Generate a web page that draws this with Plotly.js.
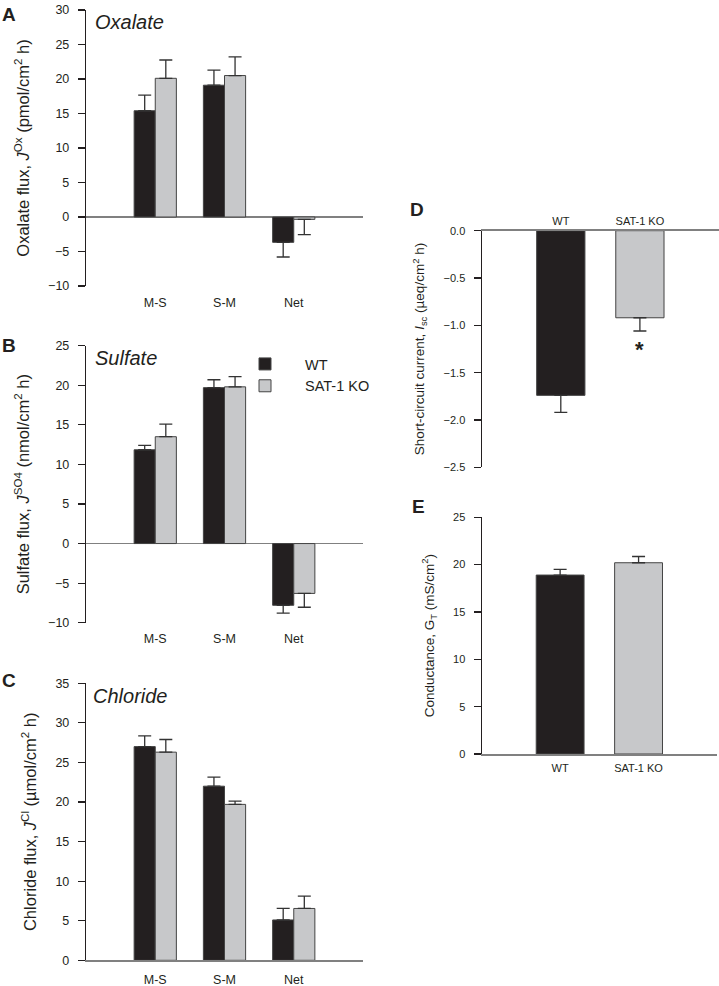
<!DOCTYPE html>
<html>
<head>
<meta charset="utf-8">
<script src="https://cdn.plot.ly/plotly-3.0.1.min.js"></script>
<style>html,body{margin:0;padding:0;background:#fff;}#chart{width:719px;height:986px;}</style>
</head>
<body>
<div id="chart"></div>
<script>
// ---- data ----
var fluxCategories = ["M-S", "S-M", "Net"];
var groupNames = ["WT", "SAT-1 KO"];

var oxWT = [15.4, 19.1, -3.67];
var oxWTErr = [2.25, 2.2, 2.13];
var oxKO = [20.1, 20.5, -0.34];
var oxKOErr = [2.65, 2.7, 2.22];

var so4WT = [11.85, 19.7, -7.8];
var so4WTErr = [0.55, 1.0, 1.0];
var so4KO = [13.5, 19.8, -6.3];
var so4KOErr = [1.6, 1.3, 1.75];

var clWT = [27.0, 22.0, 5.1];
var clWTErr = [1.35, 1.15, 1.45];
var clKO = [26.3, 19.7, 6.55];
var clKOErr = [1.6, 0.42, 1.55];

var iscValues = [-1.74, -0.92];
var iscErr = [0.18, 0.14];

var gtValues = [18.9, 20.2];
var gtErr = [0.6, 0.66];

// ---- style ----
var FONT = "Liberation Sans, Arial, Helvetica, sans-serif";
var WT_COLOR = "#231f20";
var KO_COLOR = "#c7c8ca";
var TXT = "#231f20";
var ERRC = "#333333";

function errUp(v, e) { return v.map(function (x, i) { return x >= 0 ? e[i] : 0; }); }
function errDown(v, e) { return v.map(function (x, i) { return x < 0 ? e[i] : 0; }); }

function barTrace(xs, vals, errs, color, name, xa, ya, showLeg) {
  return {
    type: "bar", x: xs, y: vals, name: name,
    xaxis: xa, yaxis: ya, showlegend: showLeg, legendgroup: name,
    marker: { color: color, line: { color: "#444", width: 1 } },
    error_y: { type: "data", symmetric: false, array: errUp(vals, errs), arrayminus: errDown(vals, errs),
      color: ERRC, thickness: 1.3, width: 6.5 },
    hoverinfo: "skip"
  };
}

var data = [
  barTrace(fluxCategories, oxWT, oxWTErr, WT_COLOR, groupNames[0], "x", "y", false),
  barTrace(fluxCategories, oxKO, oxKOErr, KO_COLOR, groupNames[1], "x", "y", false),
  barTrace(fluxCategories, so4WT, so4WTErr, WT_COLOR, groupNames[0], "x2", "y2", true),
  barTrace(fluxCategories, so4KO, so4KOErr, KO_COLOR, groupNames[1], "x2", "y2", true),
  barTrace(fluxCategories, clWT, clWTErr, WT_COLOR, groupNames[0], "x3", "y3", false),
  barTrace(fluxCategories, clKO, clKOErr, KO_COLOR, groupNames[1], "x3", "y3", false),
  barTrace(groupNames, iscValues, iscErr, [WT_COLOR, KO_COLOR], "Isc", "x4", "y4", false),
  barTrace(groupNames, gtValues, gtErr, [WT_COLOR, KO_COLOR], "GT", "x5", "y5", false)
];

var W = 719, H = 986;
function px(a, b) { return [a / W, b / W]; }
function py(top, bottom) { return [1 - bottom / H, 1 - top / H]; }

function xAxisFlux(anchor, line) {
  return {
    domain: px(86, 363), anchor: anchor, range: [-1, 3], type: "category",
    showgrid: false, zeroline: false, showline: line, linecolor: "#808080", linewidth: 1.5,
    ticks: "", tickfont: { family: FONT, size: 12.5, color: TXT }, ticklabelstandoff: 7, fixedrange: true
  };
}
function yAxis(anchor, domain, range, dtick, title, tsize, tstand, tickSize, fmt, zl) {
  return {
    anchor: anchor,
    domain: domain, range: range, dtick: dtick, tick0: 0, tickformat: fmt || "",
    showgrid: false, zeroline: zl, zerolinecolor: "#808080", zerolinewidth: 1.5,
    showline: true, linecolor: "#231f20", linewidth: 1.2,
    ticks: "outside", ticklen: 7, tickwidth: 1.2, tickcolor: "#231f20",
    tickfont: { family: FONT, size: tickSize, color: TXT }, ticklabelstandoff: 6,
    title: { text: title, font: { family: FONT, size: tsize, color: TXT }, standoff: tstand },
    fixedrange: true
  };
}

var layout = {
  width: W, height: H,
  margin: { l: 0, r: 0, t: 0, b: 0, pad: 0 },
  paper_bgcolor: "#fff", plot_bgcolor: "#fff",
  barmode: "group", bargap: 0.39, bargroupgap: 0,
  font: { family: FONT, color: TXT },
  showlegend: true,
  legend: {
    x: 225 / W, y: 1 - 348 / H, xanchor: "left", yanchor: "top",
    font: { family: FONT, size: 14.5, color: TXT }, bgcolor: "rgba(0,0,0,0)",
    traceorder: "normal", itemwidth: 70, tracegroupgap: 0
  },
  xaxis: xAxisFlux("y", false),
  yaxis: yAxis("x", py(10, 286), [-10, 30], 5, "Oxalate flux, <i>J</i><sup>Ox</sup> (pmol/cm<sup>2</sup> h)", 16.5, 14, 12.5, "", true),
  xaxis2: xAxisFlux("y2", false),
  yaxis2: yAxis("x2", py(345.7, 622.7), [-10, 25], 5, "Sulfate flux, <i>J</i><sup>SO4</sup> (nmol/cm<sup>2</sup> h)", 16.5, 14, 12.5, "", true),
  xaxis3: xAxisFlux("y3", true),
  yaxis3: yAxis("x3", py(683.3, 960.3), [0, 35], 5, "Chloride flux, <i>J</i><sup>Cl</sup> (µmol/cm<sup>2</sup> h)", 16.5, 14, 12.5, "", false),
  xaxis4: {
    domain: px(481.7, 719), anchor: "y4", range: [-1, 2], type: "category", side: "top",
    showgrid: false, zeroline: false, showline: true, linecolor: "#808080", linewidth: 1.5,
    ticks: "", tickfont: { family: FONT, size: 11, color: TXT }, ticklabelstandoff: 0, fixedrange: true
  },
  yaxis4: yAxis("x4", py(230.7, 467.3), [-2.5, 0], 0.5, "Short-circuit current, <i>I</i><sub>sc</sub> (µeq/cm<sup>2</sup> h)", 13.5, 15, 11, ".1f", false),
  xaxis5: {
    domain: px(481.7, 717), anchor: "y5", range: [-1, 2], type: "category",
    showgrid: false, zeroline: false, showline: true, linecolor: "#808080", linewidth: 1.5,
    ticks: "", tickfont: { family: FONT, size: 11, color: TXT }, ticklabelstandoff: 3, fixedrange: true
  },
  yaxis5: yAxis("x5", py(517.3, 754), [0, 25], 5, "Conductance, G<sub>T</sub> (mS/cm<sup>2</sup>)", 13.5, 15, 11, "", false),
  annotations: [
    { text: "<b>A</b>", x: 0, y: 1 - 14.5 / H, xref: "paper", yref: "paper", xanchor: "left", yanchor: "middle", showarrow: false, font: { family: FONT, size: 19, color: TXT } },
    { text: "<b>B</b>", x: 0, y: 1 - 345 / H, xref: "paper", yref: "paper", xanchor: "left", yanchor: "middle", showarrow: false, font: { family: FONT, size: 19, color: TXT } },
    { text: "<b>C</b>", x: 0, y: 1 - 680.5 / H, xref: "paper", yref: "paper", xanchor: "left", yanchor: "middle", showarrow: false, font: { family: FONT, size: 19, color: TXT } },
    { text: "<b>D</b>", x: 408 / W, y: 1 - 209 / H, xref: "paper", yref: "paper", xanchor: "left", yanchor: "middle", showarrow: false, font: { family: FONT, size: 19, color: TXT } },
    { text: "<b>E</b>", x: 410 / W, y: 1 - 506.5 / H, xref: "paper", yref: "paper", xanchor: "left", yanchor: "middle", showarrow: false, font: { family: FONT, size: 19, color: TXT } },
    { text: "<i>Oxalate</i>", x: 93 / W, y: 1 - 22 / H, xref: "paper", yref: "paper", xanchor: "left", yanchor: "middle", showarrow: false, font: { family: FONT, size: 20, color: TXT } },
    { text: "<i>Sulfate</i>", x: 93 / W, y: 1 - 358 / H, xref: "paper", yref: "paper", xanchor: "left", yanchor: "middle", showarrow: false, font: { family: FONT, size: 20, color: TXT } },
    { text: "<i>Chloride</i>", x: 91 / W, y: 1 - 696 / H, xref: "paper", yref: "paper", xanchor: "left", yanchor: "middle", showarrow: false, font: { family: FONT, size: 20, color: TXT } },
    { text: "<b>*</b>", x: groupNames[1], y: iscValues[1] - iscErr[1], xref: "x4", yref: "y4", xanchor: "center", yanchor: "top", yshift: -4, showarrow: false, font: { family: FONT, size: 22, color: TXT } }
  ]
};

Plotly.newPlot("chart", data, layout, { staticPlot: true, displayModeBar: false });
</script>
</body>
</html>
